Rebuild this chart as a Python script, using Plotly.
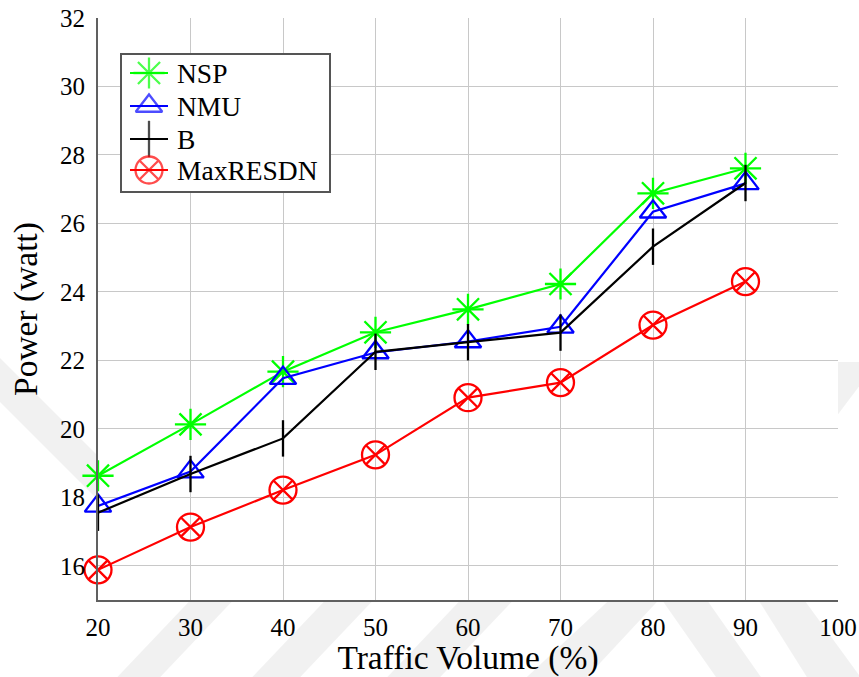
import plotly.graph_objects as go

# Traffic volume (%) and measured power (watt) for each scheme
traffic = [20, 30, 40, 50, 60, 70, 80, 90]
nsp = [18.63, 20.13, 21.67, 22.82, 23.49, 24.23, 26.88, 27.61]
nmu = [17.75, 18.75, 21.48, 22.23, 22.55, 22.98, 26.34, 27.17]
b = [17.55, 18.68, 19.72, 22.25, 22.53, 22.81, 25.32, 27.18]
maxresdn = [15.88, 17.13, 18.21, 19.24, 20.91, 21.35, 23.03, 24.30]

series_names = ["NSP", "NMU", "B", "MaxRESDN"]
series_values = [nsp, nmu, b, maxresdn]
series_colors = ["#00ff00", "#0000ff", "#000000", "#ff0000"]
series_symbols = ["asterisk-open", "triangle-up-open", "line-ns-open", "circle-x-open"]
series_sizes = [26, 23, 26, 27]

x_ticks = [20, 30, 40, 50, 60, 70, 80, 90, 100]
y_ticks = [16, 18, 20, 22, 24, 26, 28, 30, 32]

FONT = "Liberation Serif"
W, H = 859, 677
L, R, T, B = 98, 838, 18, 600

fig = go.Figure()

for name, vals, col, sym, sz in zip(series_names, series_values, series_colors,
                                    series_symbols, series_sizes):
    fig.add_trace(go.Scatter(
        x=traffic, y=vals, name=name, mode="lines+markers",
        line=dict(color=col, width=2.2),
        marker=dict(symbol=sym, size=sz, color=col, line=dict(color=col, width=2.3)),
        showlegend=False, cliponaxis=False,
    ))

# Boxed key drawn on its own small axes (pixel-like coordinates)
key_rows = [73, 106, 139, 170]
for name, col, sym, sz, yy in zip(series_names, series_colors, series_symbols,
                                  series_sizes, key_rows):
    fig.add_trace(go.Scatter(
        x=[130, 149, 168], y=[yy, yy, yy], mode="lines+markers",
        line=dict(color=col, width=2.2),
        marker=dict(symbol=sym, size=[0, sz, 0], color=col,
                    line=dict(color=col, width=2.3)),
        xaxis="x2", yaxis="y2", showlegend=False, hoverinfo="skip",
        cliponaxis=False,
    ))
    fig.add_annotation(x=175, y=yy, xref="x2", yref="y2", text=name,
                       showarrow=False, xanchor="left", yanchor="middle",
                       font=dict(family=FONT, size=27.5, color="black"))


def px(x):
    return (x - L) / (R - L)


def py(y):
    return (B - y) / (B - T)


def poly(points):
    d = "M " + " L ".join(f"{px(a):.4f},{py(c):.4f}" for a, c in points) + " Z"
    return dict(type="path", path=d, xref="paper", yref="paper", layer="below",
                fillcolor="rgba(0,0,0,0.055)", line=dict(width=0))


# Faint diagonal background bands
bands = [
    [(0, 358), (120, 478), (120, 522), (0, 402)],
    [(105, 690), (148, 690), (243, 590), (200, 590)],
    [(240, 690), (288, 690), (383, 590), (335, 590)],
    [(375, 690), (428, 690), (523, 590), (470, 590)],
    [(513, 690), (575, 690), (668, 590), (620, 590)],
    [(655, 590), (700, 590), (770, 690), (725, 690)],
    [(752, 590), (797, 590), (870, 690), (815, 690)],
    [(830, 362), (870, 362), (870, 372), (830, 425)],
]
shapes = [poly(p) for p in bands]
# White plot area on top of the bands
shapes.append(dict(type="rect", xref="paper", yref="paper", x0=0, x1=1, y0=0, y1=1,
                   layer="below", fillcolor="white", line=dict(width=0)))

axis_font = dict(family=FONT, size=25, color="black")
title_font = dict(family=FONT, size=33.5, color="black")

fig.update_layout(
    width=W, height=H,
    font=dict(family=FONT, size=25, color="black"),
    margin=dict(l=L, r=W - R, t=T, b=H - B, autoexpand=False),
    paper_bgcolor="white", plot_bgcolor="white",
    shapes=shapes,
    xaxis=dict(
        range=[20, 100], tickvals=x_ticks, ticktext=[str(v) for v in x_ticks],
        showgrid=True, gridcolor="#c8c8c8", gridwidth=1.3,
        showline=True, linecolor="#606060", linewidth=2,
        ticks="", tickfont=axis_font, ticklabelstandoff=4,
        zeroline=False, automargin=False,
        title=dict(text="Traffic Volume (%)", font=title_font, standoff=5),
    ),
    yaxis=dict(
        range=[15, 32], tickvals=y_ticks, ticktext=[str(v) for v in y_ticks],
        showgrid=True, gridcolor="#c8c8c8", gridwidth=1.3,
        showline=True, linecolor="#606060", linewidth=2,
        ticks="", tickfont=axis_font, ticklabelstandoff=6,
        zeroline=False, automargin=False,
        title=dict(text="Power (watt)", font=title_font, standoff=12),
    ),
    xaxis2=dict(
        domain=[px(122), px(329)], range=[122, 329], anchor="y2",
        showgrid=False, zeroline=False, showticklabels=False, ticks="",
        showline=True, mirror=True, linecolor="#555555", linewidth=1.5,
        automargin=False,
    ),
    yaxis2=dict(
        domain=[py(191), py(55)], range=[191, 55], anchor="x2",
        showgrid=False, zeroline=False, showticklabels=False, ticks="",
        showline=True, mirror=True, linecolor="#555555", linewidth=1.5,
        automargin=False,
    ),
    showlegend=False,
)

fig.write_html("out.html")
